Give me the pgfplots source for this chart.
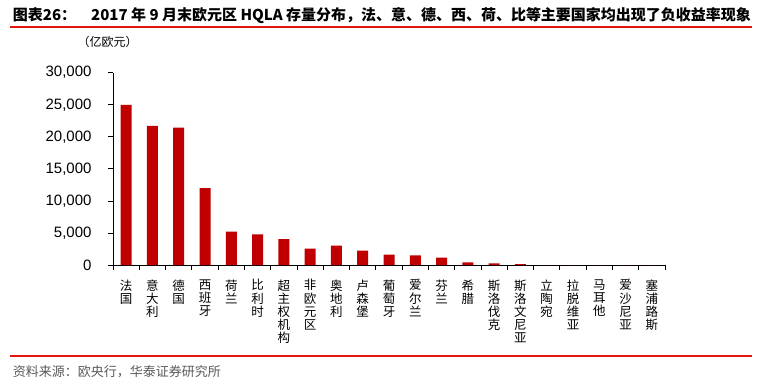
\documentclass[border=0pt]{standalone}
\usepackage{graphicx}
\usepackage{fontspec}
\setmainfont{Liberation Sans}
\newfontfamily\cjk{Noto Sans CJK SC}
\usepackage{pgfplots}
\pgfplotsset{compat=1.18}
\definecolor{barred}{HTML}{C00000}
\definecolor{rulered}{HTML}{E2160F}
\definecolor{srcgray}{HTML}{595959}
\begin{document}
\begin{tikzpicture}
\path[use as bounding box] (0pt,0pt) rectangle (767pt,-385pt);
\node[anchor=west,inner sep=0pt] at (12.7pt,-15.7pt) {\resizebox{738pt}{!}{\cjk\bfseries\fontsize{14}{16}\selectfont 图表26：\quad 2017 年 9 月末欧元区 HQLA 存量分布，法、意、德、西、荷、比等主要国家均出现了负收益率现象}};
\draw[rulered,line width=2pt] (10pt,-26.7pt) -- (752pt,-26.7pt);
\node[anchor=center,inner sep=0pt] at (107.5pt,-41.7pt) {\cjk\fontsize{12}{14}\selectfont （亿欧元）};
\draw[rulered,line width=2pt] (10pt,-355.7pt) -- (752pt,-355.7pt);
\node[anchor=west,inner sep=0pt,text=srcgray] at (12.7pt,-372pt) {\cjk\fontsize{13}{15}\selectfont 资料来源：欧央行，华泰证券研究所};
\begin{axis}[
  at={(113pt,-265pt)}, anchor=south west,
  scale only axis, width=552pt, height=192.3pt,
  xmin=-0.5, xmax=20.5, ymin=0, ymax=30000,
  axis x line=bottom, axis y line=left,
  axis line style={-, line width=0.8pt, black},
  tick align=outside,
  major tick length=5pt, minor tick length=5pt,
  xtick={0,...,20},
  minor xtick={-0.5,0.5,...,20.5},
  every major x tick/.append style={draw=none},
  every minor x tick/.append style={line width=0.8pt, black},
  every major y tick/.append style={line width=0.8pt, black},
  scaled y ticks=false,
  /pgf/number format/1000 sep={,},
  /pgf/number format/assume math mode=true,
  yticklabel style={font=\fontsize{15}{17}\selectfont, xshift=-13pt},
  xticklabel style={font=\cjk\fontsize{12.5}{13.2}\selectfont, align=center, anchor=north, yshift=-6pt},
  xticklabels={{法\\国},{意\\大\\利},{德\\国},{西\\班\\牙},{荷\\兰},{比\\利\\时},{超\\主\\权\\机\\构},{非\\欧\\元\\区},{奥\\地\\利},{卢\\森\\堡},{葡\\萄\\牙},{爱\\尔\\兰},{芬\\兰},{希\\腊},{斯\\洛\\伐\\克},{斯\\洛\\文\\尼\\亚},{立\\陶\\宛},{拉\\脱\\维\\亚},{马\\耳\\他},{爱\\沙\\尼\\亚},{塞\\浦\\路\\斯}},
  clip=false,
]
\addplot[ybar, bar width=11pt, fill=barred, draw=none] coordinates {
(0,25000) (1,21700) (2,21450) (3,12000) (4,5200) (5,4780) (6,4050)
(7,2540) (8,3010) (9,2230) (10,1610) (11,1510) (12,1140) (13,420)
(14,260) (15,130) (16,0) (17,0) (18,0) (19,0) (20,0)
};
\end{axis}
\end{tikzpicture}
\end{document}
